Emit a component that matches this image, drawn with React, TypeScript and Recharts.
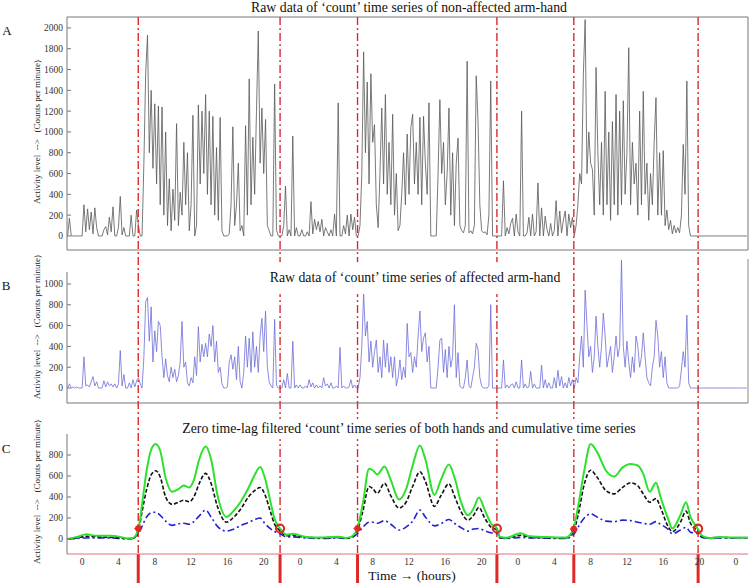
import React from 'react';
import {
  LineChart,
  ComposedChart,
  Line,
  XAxis,
  YAxis,
  ReferenceLine,
  ReferenceDot,
} from 'recharts';

// page + axis geometry
const W = 749;
const H = 583;
const SERIF = '"Times New Roman", "Liberation Serif", "DejaVu Serif", "Noto Serif", serif';
const X_DOMAIN: [number, number] = [-100 / 60, 4400 / 60]; // hours, from -100 min to 4400 min
const minorTicks = Array.from({ length: 91 }, (_, i) => (-100 + i * 50) / 60);
const hourLabels = [0, 4, 8, 12, 16, 20, 24, 28, 32, 36, 40, 44, 48, 52, 56, 60, 64, 68, 72];
const ticksA = [0, 200, 400, 600, 800, 1000, 1200, 1400, 1600, 1800, 2000];
const ticksB = [0, 200, 400, 600, 800, 1000];
const ticksC = [0, 200, 400, 600, 800];

// day start / day end events (hours)
const eventHours = [6.18, 21.8, 30.33, 45.68, 54.15, 67.84];
const dayStartMarks = [
  { t: 6.18, v: 100 },
  { t: 30.33, v: 100 },
  { t: 54.15, v: 95 },
];
const dayEndMarks = [
  { t: 21.8, v: 100 },
  { t: 45.68, v: 100 },
  { t: 67.84, v: 98 },
];

// raw counts, one sample every 0.2 h, each segment listed with its start hour
const STEP = 0.2;
const nightA1 = [0, 170, 0, 0, 0, 0, 0, 0, 0, 300, 40, 260, 60, 230, 20, 270, 80, 0, 0, 0, 60, 90, 10, 180, 40, 280, 0, 0, 80, 380, 10, 80, 0, 0, 0, 200, 0, 0, 250, 100, 0, 0];
const dayA1 = [700, 1570, 1930, 800, 1400, 650, 1270, 500, 1250, 300, 1240, 200, 1000, 100, 550, 50, 450, 150, 1080, 100, 420, 200, 900, 300, 800, 50, 300, 1160, 0, 100, 1260, 500, 1200, 600, 1360, 400, 1200, 300, 1150, 200, 850, 150, 1140, 50, 0, 0, 0, 20, 300, 1050, 100, 300, 700, 50, 100, 0, 1060, 200, 1510, 300, 950, 400, 1200, 1970, 700, 1230, 600, 1120, 100, 50, 0, 0, 1460, 60, 0];
const nightA2 = [0, 0, 100, 480, 0, 60, 0, 960, 0, 80, 0, 0, 60, 0, 0, 40, 0, 330, 20, 160, 60, 140, 40, 160, 0, 80, 40, 0, 60, 0, 210, 0, 1280, 0, 0, 100, 20, 200, 0, 210, 60, 180, 0];
const dayA2 = [0, 100, 600, 1770, 800, 1480, 500, 1560, 900, 1070, 300, 80, 600, 1230, 500, 1360, 400, 900, 300, 1170, 200, 600, 50, 100, 400, 800, 300, 980, 400, 1040, 1170, 500, 900, 400, 1140, 300, 1150, 700, 400, 1280, 0, 0, 0, 0, 600, 1310, 600, 900, 300, 600, 1230, 200, 800, 100, 700, 940, 100, 50, 30, 100, 1680, 30, 50, 20, 100, 1540, 1100, 300, 50, 30, 40, 10, 200, 1490, 0, 0];
const nightA3 = [0, 0, 0, 0, 530, 0, 80, 20, 120, 170, 0, 210, 40, 0, 1200, 0, 0, 30, 180, 0, 210, 0, 40, 510, 0, 270, 0, 190, 60, 0, 120, 0, 50, 340, 0, 240, 30, 150, 240, 0, 210, 80, 180];
const dayA3 = [0, 100, 300, 600, 500, 1550, 2080, 600, 1000, 700, 640, 200, 1620, 800, 300, 900, 200, 1390, 300, 1000, 150, 1100, 300, 1360, 200, 1200, 300, 1300, 400, 800, 1810, 300, 900, 500, 700, 200, 1200, 300, 1390, 400, 700, 150, 600, 300, 900, 1330, 200, 800, 200, 820, 100, 250, 60, 150, 20, 100, 30, 80, 30, 200, 880, 400, 1490, 100, 0];
const tailA = [0, 0, 0, 0, 0, 0, 0, 0, 0, 0, 0, 0, 0, 0, 0, 0, 0, 0, 0, 0, 0, 0, 0, 0, 0, 0, 0, 0, 0, 0, 0];

const nightB1 = [0, 40, 0, 10, 0, 10, 0, 0, 0, 300, 20, 30, 10, 60, 110, 20, 60, 0, 0, 0, 70, 10, 60, 20, 40, 10, 40, 0, 40, 360, 20, 130, 0, 0, 50, 0, 80, 10, 70, 100, 40, 0];
const dayB1 = [300, 830, 870, 450, 780, 250, 550, 350, 640, 600, 300, 100, 280, 120, 60, 200, 100, 180, 60, 120, 250, 640, 200, 250, 50, 20, 100, 50, 300, 120, 590, 250, 420, 300, 430, 300, 520, 400, 600, 250, 450, 150, 200, 40, 0, 0, 10, 250, 320, 180, 300, 80, 400, 60, 0, 150, 500, 200, 480, 150, 540, 200, 400, 150, 500, 670, 350, 740, 200, 60, 20, 0, 660, 30, 0];
const nightB2 = [0, 0, 80, 0, 140, 0, 0, 450, 0, 30, 0, 30, 0, 0, 20, 0, 80, 10, 50, 0, 30, 0, 20, 0, 100, 20, 40, 0, 50, 0, 0, 20, 0, 390, 0, 20, 0, 0, 10, 80, 0, 30, 0];
const dayB2 = [0, 100, 400, 910, 500, 640, 250, 450, 200, 350, 460, 150, 300, 100, 460, 200, 430, 150, 300, 100, 300, 20, 100, 270, 80, 200, 100, 620, 300, 340, 150, 300, 200, 500, 740, 350, 480, 530, 250, 400, 0, 0, 0, 0, 200, 460, 480, 150, 370, 100, 400, 200, 300, 800, 100, 340, 20, 0, 0, 100, 270, 20, 0, 100, 200, 430, 370, 100, 20, 0, 0, 0, 20, 800, 0, 0];
const nightB3 = [0, 0, 0, 0, 270, 0, 30, 0, 30, 40, 0, 60, 0, 0, 270, 0, 40, 0, 10, 160, 0, 40, 0, 0, 0, 220, 0, 80, 0, 50, 0, 0, 100, 0, 170, 20, 110, 0, 50, 0, 100, 20, 80];
const dayB3 = [0, 100, 50, 300, 500, 200, 940, 600, 300, 400, 150, 300, 690, 400, 200, 400, 720, 500, 200, 300, 400, 150, 300, 500, 300, 400, 1230, 400, 200, 450, 250, 100, 300, 150, 500, 400, 200, 300, 530, 300, 100, 50, 20, 200, 300, 650, 500, 200, 350, 100, 300, 50, 0, 0, 0, 0, 0, 0, 20, 180, 350, 200, 700, 50, 0];
const tailB = [0, 0, 0, 0, 0, 0, 0, 0, 0, 0, 0, 0, 0, 0, 0, 0, 0, 0, 0, 0, 0, 0, 0, 0, 0, 0, 0, 0, 0, 0, 0];

// zero time-lag filtered series (hours, cumulative, non-affected, affected)
const filtHours = [-1.6, -0.6, 0.5, 1.6, 3.0, 4.2, 5.0, 5.6, 6.2, 6.6, 7.1, 7.6, 8.1, 8.6, 9.2, 9.9, 10.6, 11.2, 11.8, 12.3, 12.9, 13.6, 14.2, 14.9, 15.9, 16.6, 17.5, 18.4, 19.0, 19.6, 20.1, 20.7, 21.2, 21.8, 22.5, 23.2, 24.7, 26.5, 28.3, 29.0, 29.6, 30.3, 30.9, 31.6, 32.0, 32.5, 33.3, 34.0, 34.9, 35.7, 36.4, 37.2, 37.8, 38.8, 39.5, 40.4, 41.0, 41.7, 42.5, 43.1, 43.7, 44.3, 45.0, 45.7, 46.0, 46.7, 48.3, 49.3, 50.7, 52.2, 53.3, 54.1, 54.6, 55.3, 56.0, 56.7, 57.7, 58.6, 59.5, 60.4, 61.2, 61.8, 62.5, 63.2, 63.7, 64.5, 65.0, 65.9, 66.5, 67.0, 67.8, 68.3, 69.1, 70.1, 71.6, 73.3];
const filtTotal = [0, 20, 44, 30, 30, 20, 5, 10, 100, 330, 650, 850, 905, 840, 580, 450, 475, 510, 490, 560, 760, 880, 760, 420, 210, 260, 360, 500, 610, 685, 590, 370, 190, 100, 40, 50, 20, 15, 22, 10, 20, 100, 330, 670, 655, 615, 690, 560, 375, 480, 700, 890, 760, 420, 560, 710, 590, 360, 225, 290, 395, 285, 150, 100, 22, 12, 55, 25, 20, 15, 15, 95, 300, 650, 905, 830, 650, 595, 680, 715, 700, 620, 450, 535, 400, 200, 100, 230, 350, 210, 98, 30, 10, 20, 15, 15];
const filtNonAffected = [0, 10, 25, 20, 15, 10, 5, 5, 80, 260, 470, 610, 650, 590, 400, 330, 350, 370, 355, 400, 530, 625, 530, 310, 160, 200, 290, 410, 460, 490, 430, 270, 140, 80, 30, 35, 15, 10, 15, 5, 15, 80, 260, 500, 480, 435, 530, 410, 295, 355, 500, 640, 550, 310, 410, 525, 410, 265, 180, 225, 300, 205, 115, 80, 15, 8, 35, 18, 12, 10, 10, 70, 220, 520, 655, 590, 460, 430, 490, 535, 505, 430, 350, 385, 300, 125, 70, 160, 265, 150, 75, 20, 8, 15, 12, 12];
const filtAffected = [0, 5, 10, 10, 10, 5, 0, 5, 50, 120, 210, 250, 255, 225, 170, 130, 145, 150, 140, 165, 220, 275, 210, 120, 75, 90, 130, 160, 185, 200, 150, 100, 70, 50, 20, 20, 10, 5, 10, 5, 10, 50, 110, 160, 160, 150, 175, 140, 85, 115, 170, 275, 210, 125, 145, 185, 150, 110, 75, 95, 100, 80, 60, 50, 10, 5, 15, 10, 8, 5, 5, 40, 110, 200, 240, 210, 170, 165, 180, 175, 160, 150, 140, 165, 140, 95, 50, 85, 110, 65, 50, 15, 5, 10, 10, 10];

type Seg = [number, number[]];
const toRows = (segs: Seg[]) =>
  segs.flatMap(([start, vals]) =>
    vals.map((v, i) => ({ t: Math.round((start + i * STEP) * 100) / 100, v }))
  );

const rowsA = toRows([
  [-1.6, nightA1],
  [6.8, dayA1],
  [21.8, nightA2],
  [30.4, dayA2],
  [45.6, nightA3],
  [54.2, dayA3],
  [67.2, tailA],
]);
const rowsB = toRows([
  [-1.6, nightB1],
  [6.8, dayB1],
  [21.8, nightB2],
  [30.4, dayB2],
  [45.6, nightB3],
  [54.2, dayB3],
  [67.2, tailB],
]);
const rowsC = filtHours.map((t, i) => ({
  t,
  total: filtTotal[i],
  nonAffected: filtNonAffected[i],
  affected: filtAffected[i],
}));

const layer: React.CSSProperties = { position: 'absolute', left: 0, top: 0 };
const axisStroke = { stroke: '#777', strokeWidth: 1 };
const tickStroke = { stroke: '#8a8a8a', strokeWidth: 1 };
const yTickFont = { fontSize: 9.5, fill: '#333', fontFamily: SERIF };
const RED = '#e02828';

const Txt: React.FC<{ x: number; y: number; size: number; bg?: string; pad?: string; children: React.ReactNode }> = ({
  x,
  y,
  size,
  bg,
  pad,
  children,
}) => (
  <div
    style={{
      position: 'absolute',
      left: x,
      top: y,
      transform: 'translate(-50%, -50%)',
      fontFamily: SERIF,
      fontSize: size,
      lineHeight: `${size}px`,
      whiteSpace: 'pre',
      color: '#111',
      background: bg,
      padding: pad,
    }}
  >
    {children}
  </div>
);

const YLabel: React.FC<{ y: number }> = ({ y }) => (
  <div
    style={{
      position: 'absolute',
      left: 37,
      top: y,
      transform: 'translate(-50%, -50%) rotate(-90deg)',
      fontFamily: SERIF,
      fontSize: 9,
      whiteSpace: 'pre',
      color: '#222',
    }}
  >
    {'Activity level  -->   (Counts per minute)'}
  </div>
);

// inward tick marks on the bottom / top of a panel
const bottomTicks = (stroke = axisStroke) => (
  <XAxis
    dataKey="t"
    type="number"
    domain={X_DOMAIN}
    allowDataOverflow
    ticks={minorTicks}
    interval={0}
    mirror
    tick={false}
    tickSize={5}
    axisLine={stroke}
    tickLine={tickStroke}
  />
);

const DayStartDot = (p: any) => (
  <g>
    <circle cx={p.cx} cy={p.cy} r={3.2} fill={RED} />
    <line x1={p.cx - 4} y1={p.cy} x2={p.cx + 4} y2={p.cy} stroke={RED} strokeWidth={1.2} />
    <line x1={p.cx} y1={p.cy - 4} x2={p.cx} y2={p.cy + 4} stroke={RED} strokeWidth={1.2} />
  </g>
);
const DayEndRing = (p: any) => <circle cx={p.cx} cy={p.cy} r={4} fill="none" stroke={RED} strokeWidth={2.2} />;

export default function App() {
  return (
    <div style={{ position: 'absolute', left: 0, top: 0, width: W, height: H, background: '#fff', overflow: 'hidden' }}>
      {/* A: non-affected arm-hand */}
      <div style={layer}>
        <LineChart width={W} height={H} data={rowsA} margin={{ top: 17, right: 1, left: 0, bottom: 333 }}>
          {bottomTicks()}
          <XAxis
            xAxisId="top"
            orientation="top"
            dataKey="t"
            type="number"
            domain={X_DOMAIN}
            allowDataOverflow
            ticks={minorTicks}
            interval={0}
            mirror
            tick={false}
            tickSize={5}
            axisLine={axisStroke}
            tickLine={tickStroke}
          />
          <YAxis
            type="number"
            domain={[-135, 2105]}
            allowDataOverflow
            ticks={ticksA}
            interval={0}
            width={67}
            tickSize={-4}
            tickMargin={8}
            tick={yTickFont}
            axisLine={axisStroke}
            tickLine={axisStroke}
          />
          <ReferenceLine x={X_DOMAIN[1]} stroke="#777" />
          <Line dataKey="v" type="linear" stroke="#585858" strokeWidth={0.8} dot={false} activeDot={false} isAnimationActive={false} />
        </LineChart>
      </div>

      {/* B: affected arm-hand */}
      <div style={layer}>
        <LineChart width={W} height={H} data={rowsB} margin={{ top: 259, right: 1, left: 0, bottom: 180 }}>
          {bottomTicks()}
          <YAxis
            type="number"
            domain={[-144, 1240]}
            allowDataOverflow
            ticks={ticksB}
            interval={0}
            width={67}
            tickSize={-4}
            tickMargin={8}
            tick={yTickFont}
            axisLine={false}
            tickLine={axisStroke}
          />
          <ReferenceLine segment={[{ x: X_DOMAIN[0], y: -144 }, { x: X_DOMAIN[0], y: 1115 }]} stroke="#777" />
          <ReferenceLine x={X_DOMAIN[1]} stroke="#888" />
          <Line dataKey="v" type="linear" stroke="#6d6dd8" strokeWidth={0.8} dot={false} activeDot={false} isAnimationActive={false} />
        </LineChart>
      </div>

      {/* event lines crossing all panels */}
      <div style={layer}>
        <LineChart width={W} height={H} data={eventHours.map((t) => ({ t }))} margin={{ top: 17, right: 1, left: 67, bottom: 0 }}>
          <XAxis dataKey="t" type="number" domain={X_DOMAIN} allowDataOverflow hide />
          <YAxis type="number" domain={[0, 566]} allowDataOverflow hide width={0} />
          {eventHours.map((t) => (
            <ReferenceLine
              key={`d${t}`}
              segment={[{ x: t, y: 566 }, { x: t, y: 29 }]}
              stroke={RED}
              strokeWidth={1.4}
              strokeDasharray="8 3 2 3"
            />
          ))}
          {eventHours.map((t) => (
            <ReferenceLine key={`s${t}`} segment={[{ x: t, y: 29 }, { x: t, y: 0 }]} stroke={RED} strokeWidth={3} />
          ))}
        </LineChart>
      </div>

      {/* C: filtered series */}
      <div style={layer}>
        <ComposedChart width={W} height={H} data={rowsC} margin={{ top: 434, right: 1, left: 0, bottom: 9 }}>
          {bottomTicks({ stroke: '#e07070', strokeWidth: 1 })}
          <XAxis
            xAxisId="lab"
            dataKey="t"
            type="number"
            domain={X_DOMAIN}
            allowDataOverflow
            ticks={hourLabels}
            interval={0}
            tickFormatter={(h: number) => String(h % 24)}
            axisLine={false}
            tickLine={false}
            tickSize={0}
            tickMargin={4}
            height={20}
            tick={{ fontSize: 9.5, fill: '#333', fontFamily: SERIF }}
          />
          <YAxis
            type="number"
            domain={[-143, 1000]}
            allowDataOverflow
            ticks={ticksC}
            interval={0}
            width={67}
            tickSize={-4}
            tickMargin={8}
            tick={yTickFont}
            axisLine={axisStroke}
            tickLine={axisStroke}
          />
          <Line dataKey="affected" type="monotone" stroke="#2323d0" strokeWidth={1.6} strokeDasharray="7 3 2 3" dot={false} activeDot={false} isAnimationActive={false} />
          <Line dataKey="nonAffected" type="monotone" stroke="#111" strokeWidth={1.6} strokeDasharray="4 2" dot={false} activeDot={false} isAnimationActive={false} />
          <Line dataKey="total" type="monotone" stroke="#2ee02e" strokeWidth={2} dot={false} activeDot={false} isAnimationActive={false} />
          {dayStartMarks.map((m) => (
            <ReferenceDot key={`ms${m.t}`} x={m.t} y={m.v} r={3} shape={DayStartDot} />
          ))}
          {dayEndMarks.map((m) => (
            <ReferenceDot key={`me${m.t}`} x={m.t} y={m.v} r={4} shape={DayEndRing} />
          ))}
        </ComposedChart>
      </div>

      {/* titles and labels */}
      <Txt x={409} y={8} size={13.8}>Raw data of ‘count’ time series of non-affected arm-hand</Txt>
      <Txt x={415} y={278} size={13.8} bg="#fff" pad="9px 3px">Raw data of ‘count’ time series of affected arm-hand</Txt>
      <Txt x={409} y={429} size={13.8} bg="#fff" pad="3px 3px">Zero time-lag filtered ‘count’ time series of both hands and cumulative time series</Txt>
      <Txt x={412} y={576} size={13.5}>Time → (hours)</Txt>
      <Txt x={7} y={30} size={13}>A</Txt>
      <Txt x={6} y={285} size={13}>B</Txt>
      <Txt x={6} y={448} size={13}>C</Txt>
      <YLabel y={132} />
      <YLabel y={327} />
      <YLabel y={492} />
    </div>
  );
}
